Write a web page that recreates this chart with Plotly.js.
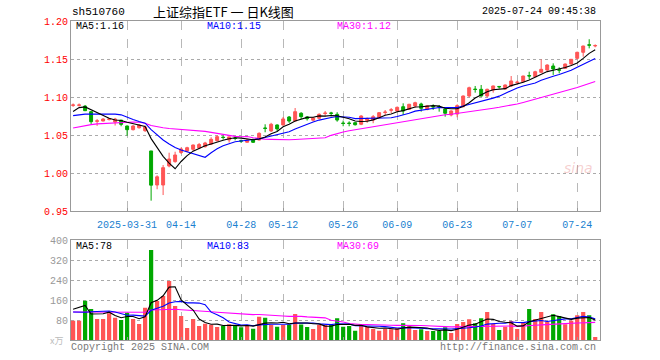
<!DOCTYPE html>
<html>
<head>
<meta charset="utf-8">
<script src="https://cdn.plot.ly/plotly-3.0.1.min.js"></script>
<style>html,body{margin:0;padding:0;background:#fff;}#chart{width:660px;height:360px;}</style>
</head>
<body>
<div id="chart"></div>
<script>
// ---- data ----
const dates = ['2025-03-18','2025-03-19','2025-03-20','2025-03-21','2025-03-24','2025-03-25','2025-03-26','2025-03-27','2025-03-28',
'2025-03-31','2025-04-01','2025-04-02','2025-04-03','2025-04-07','2025-04-08','2025-04-09','2025-04-10','2025-04-11',
'2025-04-14','2025-04-15','2025-04-16','2025-04-17','2025-04-18','2025-04-21','2025-04-22','2025-04-23','2025-04-24','2025-04-25',
'2025-04-28','2025-04-29','2025-04-30','2025-05-06','2025-05-07','2025-05-08','2025-05-09',
'2025-05-12','2025-05-13','2025-05-14','2025-05-15','2025-05-16','2025-05-19','2025-05-20','2025-05-21','2025-05-22','2025-05-23',
'2025-05-26','2025-05-27','2025-05-28','2025-05-29','2025-05-30','2025-06-03','2025-06-04','2025-06-05','2025-06-06',
'2025-06-09','2025-06-10','2025-06-11','2025-06-12','2025-06-13','2025-06-16','2025-06-17','2025-06-18','2025-06-19','2025-06-20',
'2025-06-23','2025-06-24','2025-06-25','2025-06-26','2025-06-27','2025-06-30','2025-07-01','2025-07-02','2025-07-03','2025-07-04',
'2025-07-07','2025-07-08','2025-07-09','2025-07-10','2025-07-11','2025-07-14','2025-07-15','2025-07-16','2025-07-17','2025-07-18',
'2025-07-21','2025-07-22','2025-07-23','2025-07-24'];

const openP = [1.0890,1.0890,1.0880,1.0807,1.0680,1.0684,1.0705,1.0670,1.0695,
1.0618,1.0570,1.0595,1.0557,1.0290,0.9842,0.9842,1.0092,1.0150,
1.0270,1.0290,1.0312,1.0330,1.0346,1.0380,1.0425,1.0472,1.0435,1.0460,
1.0425,1.0405,1.0443,1.0434,1.0592,1.0553,1.0632,
1.0632,1.0737,1.0684,1.0786,1.0738,1.0695,1.0720,1.0783,1.0790,1.0772,
1.0657,1.0657,1.0662,1.0641,1.0690,1.0697,1.0728,1.0796,1.0826,
1.0816,1.0872,1.0838,1.0882,1.0908,1.0835,1.0875,1.0875,1.0842,1.0763,
1.0776,1.0872,1.1013,1.1104,1.1101,1.1013,1.1092,1.1139,1.1105,1.1145,
1.1190,1.1201,1.1282,1.1267,1.1325,1.1355,1.1408,1.1358,1.1378,1.1434,
1.1509,1.1588,1.1687,1.1672];
const highP = [1.0915,1.0915,1.0895,1.0815,1.0710,1.0720,1.0725,1.0725,1.0700,
1.0625,1.0630,1.0645,1.0625,1.0290,0.9970,1.0105,1.0267,1.0280,
1.0335,1.0345,1.0375,1.0395,1.0410,1.0470,1.0495,1.0495,1.0480,1.0480,
1.0440,1.0450,1.0450,1.0535,1.0641,1.0660,1.0640,
1.0737,1.0750,1.0855,1.0800,1.0750,1.0735,1.0785,1.0816,1.0805,1.0800,
1.0690,1.0680,1.0670,1.0760,1.0730,1.0763,1.0800,1.0829,1.0855,
1.0875,1.0917,1.0910,1.0938,1.0925,1.0895,1.0904,1.0895,1.0850,1.0825,
1.0904,1.1020,1.1136,1.1145,1.1158,1.1110,1.1150,1.1145,1.1165,1.1276,
1.1215,1.1280,1.1333,1.1345,1.1495,1.1430,1.1443,1.1391,1.1440,1.1500,
1.1596,1.1675,1.1760,1.1693];
const lowP = [1.0870,1.0875,1.0815,1.0645,1.0620,1.0680,1.0690,1.0625,1.0615,
1.0490,1.0560,1.0585,1.0540,0.9636,0.9786,0.9710,1.0075,1.0135,
1.0250,1.0275,1.0290,1.0315,1.0335,1.0370,1.0415,1.0440,1.0400,1.0430,
1.0395,1.0400,1.0395,1.0430,1.0536,1.0540,1.0550,
1.0625,1.0660,1.0680,1.0710,1.0690,1.0680,1.0705,1.0745,1.0745,1.0675,
1.0615,1.0615,1.0625,1.0630,1.0660,1.0655,1.0720,1.0760,1.0790,
1.0810,1.0763,1.0830,1.0860,1.0807,1.0825,1.0830,1.0807,1.0741,1.0745,
1.0733,1.0865,1.0996,1.1057,1.1004,1.0996,1.1057,1.1110,1.1100,1.1136,
1.1160,1.1195,1.1235,1.1260,1.1320,1.1345,1.1290,1.1312,1.1370,1.1430,
1.1496,1.1530,1.1640,1.1654];
const closeP = [1.0895,1.0895,1.0820,1.0675,1.0686,1.0710,1.0710,1.0710,1.0640,
1.0570,1.0618,1.0630,1.0605,0.9840,0.9950,1.0070,1.0184,1.0237,
1.0316,1.0333,1.0368,1.0375,1.0395,1.0443,1.0478,1.0467,1.0475,1.0455,
1.0420,1.0432,1.0404,1.0522,1.0587,1.0641,1.0580,
1.0711,1.0684,1.0807,1.0741,1.0715,1.0724,1.0772,1.0788,1.0785,1.0697,
1.0652,1.0652,1.0635,1.0750,1.0718,1.0741,1.0794,1.0801,1.0831,
1.0864,1.0816,1.0904,1.0925,1.0851,1.0884,1.0870,1.0870,1.0786,1.0816,
1.0886,1.1013,1.1122,1.1099,1.1013,1.1101,1.1145,1.1134,1.1158,1.1211,
1.1195,1.1276,1.1277,1.1333,1.1364,1.1421,1.1368,1.1353,1.1434,1.1496,
1.1588,1.1671,1.1682,1.1677];

// volume (万)
const volume = [77,77,157,124,84,84,107,89,80,
109,84,64,129,360,156,176,236,136,
96,48,84,56,65,61,52,57,63,60,
51,59,45,93,89,60,53,
60,62,104,62,52,44,60,60,60,87,
53,56,37,63,53,44,37,44,43,
48,67,55,40,43,36,36,37,51,28,
64,72,83,67,87,112,64,40,53,76,
44,69,124,84,112,73,103,96,63,77,
99,112,99,12];

// moving-average values before a full window exists
const ma5Lead  = [1.081,1.086,1.087,1.083];
const ma10Lead = [1.0755,1.077,1.0775,1.0775,1.0775,1.0775,1.0775,1.0775,1.0765];
const ma30Lead = [1.0592,1.0610,1.0625,1.0637,1.0646,1.0650,1.0653,1.0657,1.0665,1.0673,1.0672,1.0668,1.0655,1.0625,
1.0605,1.0595,1.0585,1.0578,1.0572,1.0568,1.0566,1.0558,1.0548,1.0535,1.0520,1.0505,1.0492,1.0482,1.0477];
const vma5Lead  = [123,130,138,104];
const vma10Lead = [112,111,111,113,115,116,116,112,104];
const vma30Lead = [112,112,112,112,112,111,111,111,110,110,109,109,111,120,121,123,125,123,121,120,118,117,115,113,111,109,107,105,104];

const tickDates = ['2025-03-31','2025-04-14','2025-04-28','2025-05-12','2025-05-26','2025-06-09','2025-06-23','2025-07-07','2025-07-21'];
const tickText  = ['2025-03-31','04-14','04-28','05-12','05-26','06-09','06-23','07-07','07-24'];
const priceTicks = [0.95,1.00,1.05,1.10,1.15,1.20];
const priceTickText = ['0.95','1.00','1.05','1.10','1.15','1.20'];
const volTicks = [80,160,240,320,400];
const volTickText = ['80','160','240','320','400'];

// ---- helpers ----
function movingAvg(vals, n, lead){
  return vals.map((v,i)=>{
    if(i < lead.length) return lead[i];
    let s=0; for(let k=i-n+1;k<=i;k++) s+=vals[k];
    return s/n;
  });
}
const RED='#ff5555', GRN='#00a800', BLUE='#0000ff', MAG='#ff00ff';
const MONO='"Liberation Mono","DejaVu Sans Mono",monospace';

const ma5 = movingAvg(closeP,5,ma5Lead), ma10 = movingAvg(closeP,10,ma10Lead), ma30 = movingAvg(closeP,30,ma30Lead);
const vma5 = movingAvg(volume,5,vma5Lead), vma10 = movingAvg(volume,10,vma10Lead), vma30 = movingAvg(volume,30,vma30Lead);
const volColors = closeP.map((c,i)=> c>=openP[i] ? RED : GRN);

const traces = [
  {type:'candlestick', x:dates, open:openP, high:highP, low:lowP, close:closeP, xaxis:'x', yaxis:'y',
   increasing:{line:{color:RED,width:1},fillcolor:RED}, decreasing:{line:{color:GRN,width:1},fillcolor:GRN},
   whiskerwidth:0, hoverinfo:'skip', showlegend:false},
  {type:'scatter', mode:'lines', x:dates, y:ma30, xaxis:'x', yaxis:'y', line:{color:MAG,width:1.1}, hoverinfo:'skip'},
  {type:'scatter', mode:'lines', x:dates, y:ma10, xaxis:'x', yaxis:'y', line:{color:BLUE,width:1.1}, hoverinfo:'skip'},
  {type:'scatter', mode:'lines', x:dates, y:ma5, xaxis:'x', yaxis:'y', line:{color:'#000',width:1.1}, hoverinfo:'skip'},
  {type:'bar', x:dates, y:volume, xaxis:'x2', yaxis:'y2', marker:{color:volColors,line:{width:0}}, hoverinfo:'skip'},
  {type:'scatter', mode:'lines', x:dates, y:vma30, xaxis:'x2', yaxis:'y2', line:{color:MAG,width:1.1}, hoverinfo:'skip'},
  {type:'scatter', mode:'lines', x:dates, y:vma10, xaxis:'x2', yaxis:'y2', line:{color:BLUE,width:1.1}, hoverinfo:'skip'},
  {type:'scatter', mode:'lines', x:dates, y:vma5, xaxis:'x2', yaxis:'y2', line:{color:'#000',width:1.1}, hoverinfo:'skip'}
];

// layout geometry (pixels -> paper)
const L=71, R=600, T=21, B=340;
const W=R-L, H=B-T;
const px = x => (x-L)/W, py = y => (B-y)/H;

function ann(text, x, y, color, size, anchor, family){
  return {text:text, x:px(x), y:py(y), xref:'paper', yref:'paper', xanchor:anchor||'left', yanchor:'middle',
    showarrow:false, font:{family:family||MONO, size:size||10, color:color}};
}

const xCommon = {type:'category', range:[-0.35, 87.8], showgrid:true, griddash:'dash', gridcolor:'#b8b8b8', gridwidth:1,
  showline:true, mirror:true, linecolor:'#999', linewidth:1, zeroline:false, tickvals:tickDates, ticktext:tickText,
  ticks:'inside', ticklen:3, tickcolor:'#999', fixedrange:true};

const layout = {
  width:660, height:360, paper_bgcolor:'#fff', plot_bgcolor:'#fff', showlegend:false, bargap:0.3,
  margin:{l:L, r:660-R, t:T, b:360-B},
  xaxis:Object.assign({}, xCommon, {anchor:'y', rangeslider:{visible:false}, ticklabelstandoff:4,
     tickfont:{family:MONO, size:10, color:'#1a7fd0'}}),
  xaxis2:Object.assign({}, xCommon, {anchor:'y2', matches:'x', showticklabels:false}),
  yaxis:{domain:[py(211),1], range:[0.95,1.20], tickvals:priceTicks, ticktext:priceTickText,
     tickfont:{family:MONO,size:10,color:'#ff0000'}, showgrid:true, griddash:'dot', gridcolor:'#aaa',
     showline:true, mirror:true, linecolor:'#999', linewidth:1, zeroline:false, ticks:'', fixedrange:true},
  yaxis2:{domain:[0,py(240)], range:[0,400], tickvals:volTicks, ticktext:volTickText,
     tickfont:{family:MONO,size:10,color:'#999'}, showgrid:true, griddash:'dot', gridcolor:'#aaa',
     showline:true, mirror:true, linecolor:'#999', linewidth:1, zeroline:false, ticks:'', fixedrange:true},
  annotations:[
    ann('sh510760', 70, 12, '#000', 11),
    ann('上证综指ETF 一 日K线图', 223, 12, '#000', 13, 'center', '"Noto Sans CJK SC", sans-serif'),
    ann('2025-07-24 09:45:38', 598, 12, '#000', 10, 'right'),
    ann('MA5:1.16', 74, 27, '#000', 10),
    ann('MA10:1.15', 205, 27, BLUE, 10),
    ann('MA30:1.12', 335, 27, MAG, 10),
    ann('MA5:78', 74, 246, '#000', 10),
    ann('MA10:83', 205, 246, BLUE, 10),
    ann('MA30:69', 335, 246, MAG, 10),
    ann('Copyright 2025 SINA.COM', 69, 348, '#777', 10),
    ann('http://finance.sina.com.cn', 598, 348, '#777', 10, 'right'),
    ann('x万', 48, 341, '#bbb', 9, 'left', '"Noto Sans CJK SC", sans-serif'),
    ann('<i>sina</i>', 578, 168, 'rgba(230,120,120,0.35)', 14, 'center', 'Verdana, "DejaVu Sans", sans-serif')
  ]
};

Plotly.newPlot('chart', traces, layout, {staticPlot:true, displayModeBar:false});
</script>
</body>
</html>
